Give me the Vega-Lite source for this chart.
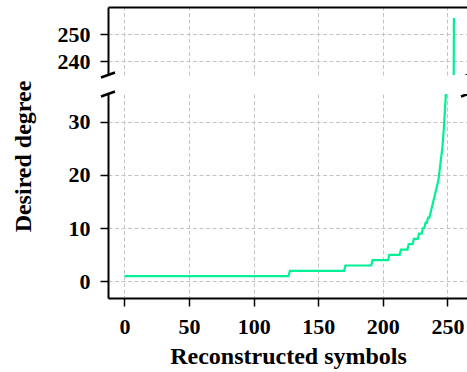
{
  "$schema": "https://vega.github.io/schema/vega-lite/v6.json",
  "padding": {"left": 11, "top": 7, "right": 0, "bottom": 5},
  "spacing": 19,
  "bounds": "flush",
  "config": {
    "view": {"stroke": null},
    "font": "Liberation Serif",
    "axis": {
      "labelFont": "Liberation Serif", "labelFontWeight": "bold", "labelFontSize": 22, "labelColor": "black",
      "titleFont": "Liberation Serif", "titleFontWeight": "bold", "titleFontSize": 24, "titleColor": "black",
      "domainColor": "black", "domainWidth": 2, "tickColor": "black", "tickWidth": 1.5, "tickSize": 8,
      "gridColor": "#c4c4c4", "gridDash": [4, 2.5], "gridWidth": 1, "labelPadding": 10
    }
  },
  "datasets": {
    "deg": [
      {"symbols": 0, "degree": 1}, {"symbols": 127, "degree": 1}, {"symbols": 128, "degree": 2}, {"symbols": 170, "degree": 2},
      {"symbols": 171, "degree": 3}, {"symbols": 191, "degree": 3}, {"symbols": 192, "degree": 4}, {"symbols": 204, "degree": 4},
      {"symbols": 205, "degree": 5}, {"symbols": 213, "degree": 5}, {"symbols": 214, "degree": 6}, {"symbols": 219, "degree": 6},
      {"symbols": 220, "degree": 7}, {"symbols": 223, "degree": 7}, {"symbols": 224, "degree": 8}, {"symbols": 227, "degree": 8},
      {"symbols": 228, "degree": 9}, {"symbols": 230, "degree": 9}, {"symbols": 231, "degree": 10}, {"symbols": 232, "degree": 10},
      {"symbols": 233, "degree": 11}, {"symbols": 234, "degree": 11}, {"symbols": 235, "degree": 12}, {"symbols": 236, "degree": 12},
      {"symbols": 237, "degree": 13}, {"symbols": 238, "degree": 14}, {"symbols": 239, "degree": 15}, {"symbols": 240, "degree": 16},
      {"symbols": 241, "degree": 17}, {"symbols": 242, "degree": 18}, {"symbols": 243, "degree": 19}, {"symbols": 244, "degree": 21},
      {"symbols": 245, "degree": 23}, {"symbols": 246, "degree": 25}, {"symbols": 247, "degree": 28}, {"symbols": 248, "degree": 32},
      {"symbols": 249, "degree": 36}, {"symbols": 250, "degree": 42}, {"symbols": 251, "degree": 51}, {"symbols": 252, "degree": 64},
      {"symbols": 253, "degree": 85}, {"symbols": 254, "degree": 128}, {"symbols": 255, "degree": 256}
    ],
    "brkTopL": [{"x": -12.75, "y": 235}],
    "brkTopR": [{"x": 265.9, "y": 235}],
    "brkBotL": [{"x": -12.75, "y": 35.2}],
    "brkBotR": [{"x": 265.9, "y": 35.2}]
  },
  "vconcat": [
    {
      "width": 360, "height": 68,
      "encoding": {
        "x": {"field": "x", "type": "quantitative", "scale": {"domain": [-12.75, 265.9], "nice": false, "zero": false},
              "axis": {"orient": "top", "values": [0, 50, 100, 150, 200, 250], "labels": false, "ticks": false, "title": null, "grid": true}},
        "y": {"field": "y", "type": "quantitative", "scale": {"domain": [235, 260], "nice": false, "zero": false},
              "axis": {"values": [240, 250], "title": null, "grid": true}}
      },
      "layer": [
        {"data": {"name": "deg"}, "mark": {"type": "line", "color": "#00f095", "strokeWidth": 2.2, "clip": true},
         "encoding": {"x": {"field": "symbols", "type": "quantitative"}, "y": {"field": "degree", "type": "quantitative"}}},
        {"data": {"name": "brkTopL"}, "mark": {"type": "point", "shape": "M-1,0.35L1,-0.35", "size": 196, "stroke": "black", "strokeWidth": 2.5, "filled": false, "opacity": 1, "clip": false}},
        {"data": {"name": "brkTopR"}, "mark": {"type": "point", "shape": "M-1,0.35L1,-0.35", "size": 196, "stroke": "black", "strokeWidth": 2.5, "filled": false, "opacity": 1, "clip": true}}
      ]
    },
    {
      "width": 360, "height": 204,
      "encoding": {
        "x": {"field": "x", "type": "quantitative", "scale": {"domain": [-12.75, 265.9], "nice": false, "zero": false},
              "axis": {"values": [0, 50, 100, 150, 200, 250], "title": "Reconstructed symbols", "grid": true, "titlePadding": 7}},
        "y": {"field": "y", "type": "quantitative", "scale": {"domain": [-3.1, 35.2], "nice": false, "zero": false},
              "axis": {"values": [0, 10, 20, 30], "title": "Desired degree", "grid": true, "titleY": 62, "titleX": -73, "titleBaseline": "bottom"}}
      },
      "layer": [
        {"data": {"name": "deg"}, "mark": {"type": "line", "color": "#00f095", "strokeWidth": 2.2, "clip": true},
         "encoding": {"x": {"field": "symbols", "type": "quantitative"}, "y": {"field": "degree", "type": "quantitative"}}},
        {"data": {"name": "brkBotL"}, "mark": {"type": "point", "shape": "M-1,0.35L1,-0.35", "size": 196, "stroke": "black", "strokeWidth": 2.5, "filled": false, "opacity": 1, "clip": false}},
        {"data": {"name": "brkBotR"}, "mark": {"type": "point", "shape": "M-1,0.35L1,-0.35", "size": 196, "stroke": "black", "strokeWidth": 2.5, "filled": false, "opacity": 1, "clip": true}}
      ]
    }
  ]
}
